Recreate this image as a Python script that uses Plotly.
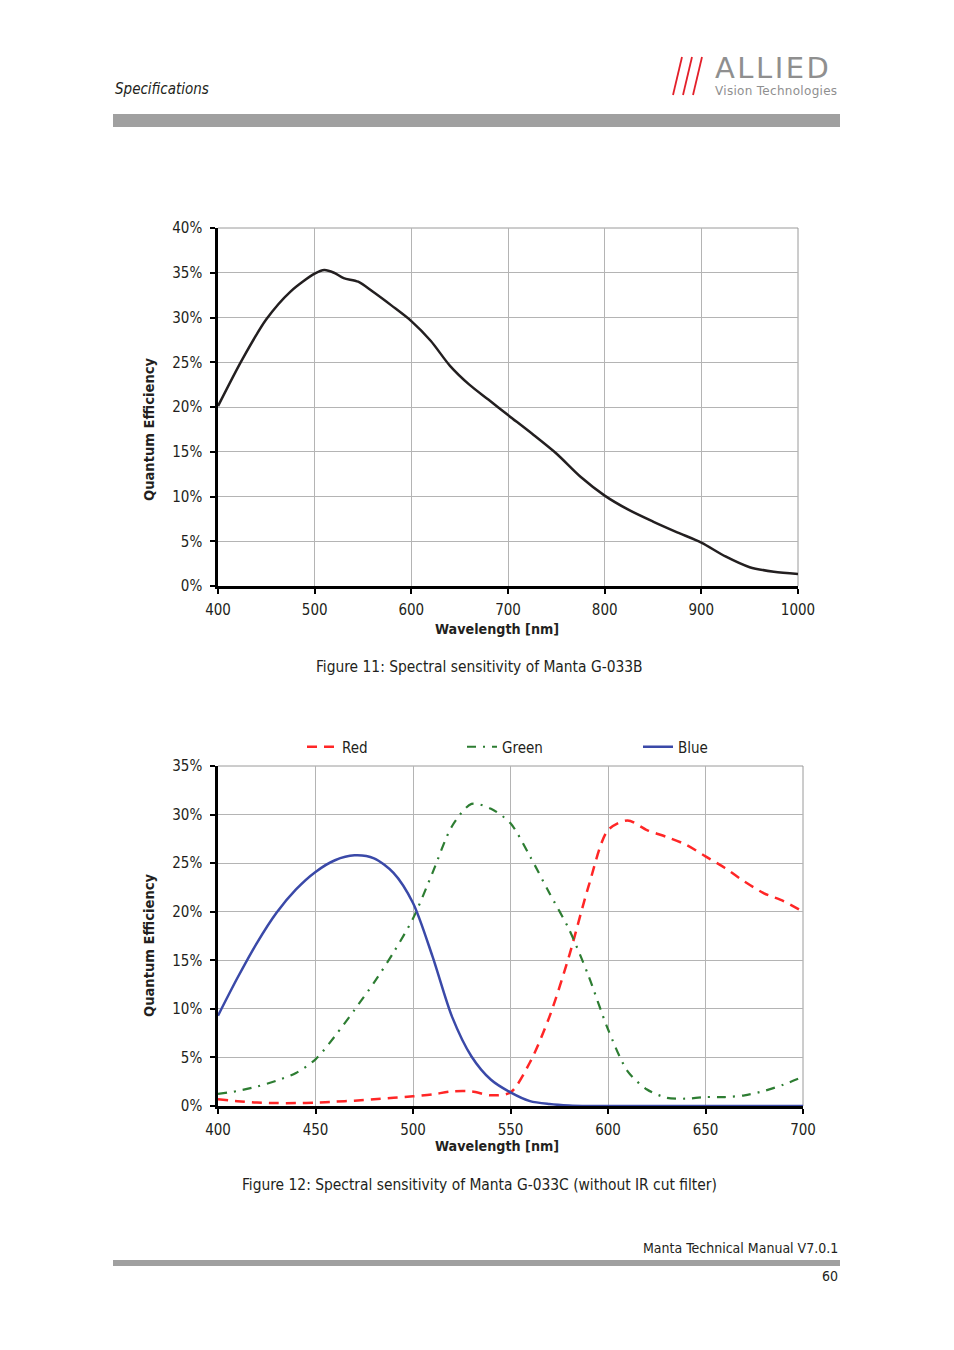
import plotly.graph_objects as go

# ---- data: Figure 11 (mono) ----
mono_wl = [400, 425, 450, 475, 500, 510, 520, 530, 545, 560, 580, 600, 620, 640, 660, 680, 700,
           725, 750, 775, 800, 825, 850, 875, 900, 925, 950, 975, 1000]
mono_qe = [20.1, 25.3, 29.8, 32.9, 34.9, 35.3, 35.0, 34.4, 34.0, 32.9, 31.3, 29.6, 27.4, 24.6, 22.5,
           20.8, 19.1, 17.0, 14.8, 12.2, 10.1, 8.5, 7.2, 6.0, 4.85, 3.3, 2.1, 1.6, 1.35]

# ---- data: Figure 12 (color) ----
rgb_wl = [400, 410, 420, 430, 440, 450, 460, 470, 480, 490, 500, 510, 520, 530, 540, 550, 560, 570,
          580, 590, 600, 610, 620, 630, 640, 650, 660, 670, 680, 690, 700]
red_qe = [0.7, 0.5, 0.35, 0.3, 0.3, 0.35, 0.45, 0.55, 0.7, 0.85, 1.0, 1.2, 1.5, 1.5, 1.1, 1.4, 4.5, 9.2,
          15.4, 22.6, 28.4, 29.4, 28.4, 27.7, 26.9, 25.7, 24.5, 23.1, 21.9, 21.1, 20.0]
green_qe = [1.25, 1.55, 2.0, 2.6, 3.4, 4.8, 7.2, 9.9, 12.7, 15.8, 19.3, 24.0, 28.8, 31.1, 30.6, 29.1,
            25.7, 21.9, 18.2, 13.4, 7.9, 3.6, 1.7, 0.85, 0.75, 0.92, 0.92, 1.1, 1.55, 2.2, 3.0]
blue_qe = [9.3, 13.2, 16.8, 19.9, 22.3, 24.1, 25.3, 25.8, 25.5, 24.0, 20.9, 15.4, 9.2, 5.1, 2.7, 1.4,
           0.5, 0.2, 0.05, 0.0, 0.0, 0.0, 0.0, 0.0, 0.0, 0.0, 0.0, 0.0, 0.0, 0.0, 0.0]

mono_xticks = [400, 500, 600, 700, 800, 900, 1000]
mono_yticks = [0, 5, 10, 15, 20, 25, 30, 35, 40]
rgb_xticks = [400, 450, 500, 550, 600, 650, 700]
rgb_yticks = [0, 5, 10, 15, 20, 25, 30, 35]

FONT = "DejaVu Sans Condensed, Liberation Sans Narrow, sans-serif"
W, H = 954, 1350
TXT = "#231f20"

def px(x):
    return x / W

def py(y):
    return 1 - y / H

fig = go.Figure()

fig.add_trace(go.Scatter(x=mono_wl, y=[v / 100 for v in mono_qe], mode="lines",
                         line=dict(color="#231f20", width=2.5, shape="spline", smoothing=0.8),
                         showlegend=False, xaxis="x", yaxis="y"))

fig.add_trace(go.Scatter(x=rgb_wl, y=[v / 100 for v in red_qe], mode="lines", name="Red",
                         line=dict(color="#ff2626", width=2.5, dash="10px,7px", shape="spline", smoothing=0.8),
                         xaxis="x2", yaxis="y2", legend="legend"))
fig.add_trace(go.Scatter(x=rgb_wl, y=[v / 100 for v in green_qe], mode="lines", name="Green",
                         line=dict(color="#2d7d32", width=2.2, dash="9px,7px,2px,7px", shape="spline", smoothing=0.8),
                         xaxis="x2", yaxis="y2", legend="legend2"))
fig.add_trace(go.Scatter(x=rgb_wl, y=[v / 100 for v in blue_qe], mode="lines", name="Blue",
                         line=dict(color="#3a49a8", width=2.5, shape="spline", smoothing=0.8),
                         xaxis="x2", yaxis="y2", legend="legend3"))

axis_common = dict(showgrid=True, gridcolor="#b4b4b4", gridwidth=1,
                   showline=True, linecolor="#000000", linewidth=2.5,
                   ticks="outside", ticklen=5, tickcolor="#000000", tickwidth=1.5,
                   tickfont=dict(family=FONT, size=15, color=TXT),
                   zeroline=False, mirror=False, automargin=False)

leg_common = dict(orientation="h", xanchor="left", yanchor="middle",
                  font=dict(family=FONT, size=15, color=TXT),
                  bgcolor="rgba(0,0,0,0)", itemwidth=30)

fig.update_layout(
    width=W, height=H,
    margin=dict(l=0, r=0, t=0, b=0, autoexpand=False),
    paper_bgcolor="white", plot_bgcolor="white",
    font=dict(family=FONT, color=TXT),
    xaxis=dict(axis_common, domain=[px(218), px(798)], range=[400, 1000],
               tickvals=mono_xticks, ticklabelstandoff=3, anchor="y"),
    yaxis=dict(axis_common, domain=[py(586), py(228)], range=[0, 0.4],
               tickvals=[v / 100 for v in mono_yticks], ticklabelstandoff=5,
               ticktext=[f"{v}%" for v in mono_yticks], anchor="x"),
    xaxis2=dict(axis_common, domain=[px(218), px(803)], range=[400, 700],
                tickvals=rgb_xticks, ticklabelstandoff=3, anchor="y2"),
    yaxis2=dict(axis_common, domain=[py(1106), py(766)], range=[0, 0.35],
                tickvals=[v / 100 for v in rgb_yticks], ticklabelstandoff=5,
                ticktext=[f"{v}%" for v in rgb_yticks], anchor="x2"),
    legend=dict(leg_common, x=px(302), y=py(747)),
    legend2=dict(leg_common, x=px(462), y=py(747)),
    legend3=dict(leg_common, x=px(638), y=py(747)),
)

shapes = []
# plot borders (top/right thin gray)
for xr, yr in (("x domain", "y domain"), ("x2 domain", "y2 domain")):
    shapes.append(dict(type="line", xref=xr, yref=yr, x0=0, x1=1, y0=1, y1=1,
                       line=dict(color="#9a9a9a", width=1), layer="below"))
    shapes.append(dict(type="line", xref=xr, yref=yr, x0=1, x1=1, y0=0, y1=1,
                       line=dict(color="#9a9a9a", width=1), layer="below"))
# header / footer bars
shapes.append(dict(type="rect", xref="paper", yref="paper", x0=px(113), x1=px(840), y0=py(127), y1=py(114),
                   fillcolor="#a0a0a0", line=dict(width=0)))
shapes.append(dict(type="rect", xref="paper", yref="paper", x0=px(113), x1=px(840), y0=py(1266), y1=py(1260),
                   fillcolor="#a0a0a0", line=dict(width=0)))
# logo slashes
for i in range(3):
    x0 = 673 + i * 10
    shapes.append(dict(type="line", xref="paper", yref="paper", x0=px(x0), x1=px(x0 + 9),
                       y0=py(95), y1=py(57), line=dict(color="#e3202a", width=1.8)))
fig.update_layout(shapes=shapes)

ann = []
ann.append(dict(text="<i>Specifications</i>", x=px(113), y=py(89), xref="paper", yref="paper",
                xanchor="left", yanchor="middle", showarrow=False,
                font=dict(family=FONT, size=15, color=TXT)))
ann.append(dict(text="<span style='font-size:29px;letter-spacing:2.5px'>ALLIED</span><br>"
                     "<span style='font-size:12px;letter-spacing:0.3px'>Vision Technologies</span>",
                x=px(713), y=py(100), xref="paper", yref="paper", align="left",
                xanchor="left", yanchor="bottom", showarrow=False,
                font=dict(family="DejaVu Sans, sans-serif", size=13, color="#8f8f8f")))
ann.append(dict(text="Manta Technical Manual V7.0.1", x=px(840), y=py(1248), xref="paper", yref="paper",
                xanchor="right", yanchor="middle", showarrow=False,
                font=dict(family=FONT, size=14, color=TXT)))
ann.append(dict(text="60", x=px(840), y=py(1276), xref="paper", yref="paper",
                xanchor="right", yanchor="middle", showarrow=False,
                font=dict(family=FONT, size=14, color=TXT)))
ann.append(dict(text="Figure 11: Spectral sensitivity of Manta G-033B", x=px(479), y=py(667),
                xref="paper", yref="paper", xanchor="center", yanchor="middle", showarrow=False,
                font=dict(family=FONT, size=15.4, color=TXT)))
ann.append(dict(text="Figure 12: Spectral sensitivity of Manta G-033C (without IR cut filter)", x=px(479), y=py(1185),
                xref="paper", yref="paper", xanchor="center", yanchor="middle", showarrow=False,
                font=dict(family=FONT, size=15.4, color=TXT)))
for (xc, yc) in ((497, 629), (497, 1146)):
    ann.append(dict(text="<b>Wavelength [nm]</b>", x=px(xc), y=py(yc), xref="paper", yref="paper",
                    xanchor="center", yanchor="middle", showarrow=False,
                    font=dict(family=FONT, size=14.2, color=TXT)))
for (xc, yc) in ((149, 429), (149, 945)):
    ann.append(dict(text="<b>Quantum Efficiency</b>", x=px(xc), y=py(yc), xref="paper", yref="paper",
                    xanchor="center", yanchor="middle", showarrow=False, textangle=-90,
                    font=dict(family=FONT, size=14.6, color=TXT)))
fig.update_layout(annotations=ann)

fig.write_html("out.html")
